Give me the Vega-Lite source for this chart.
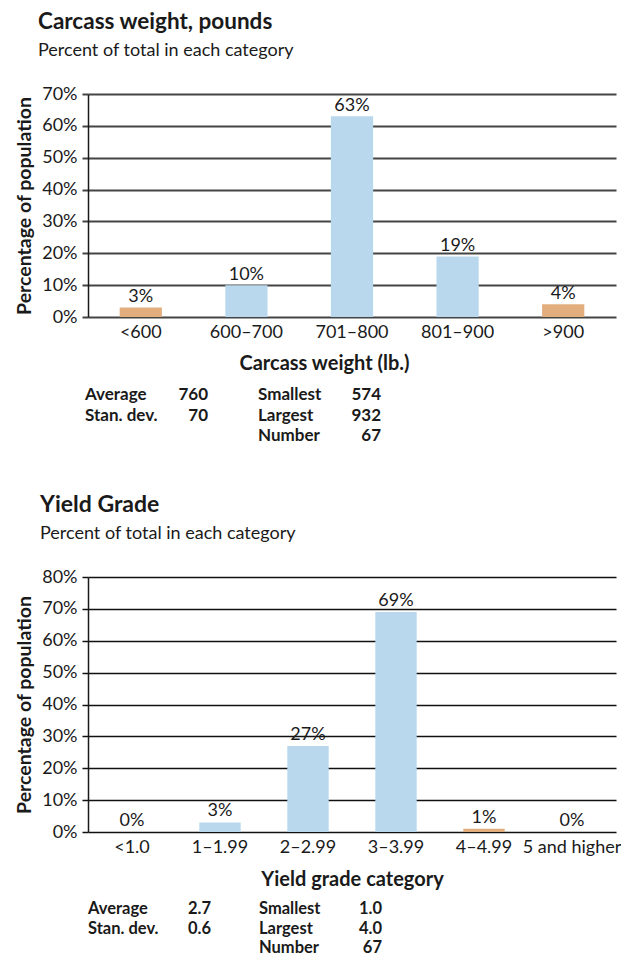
{
  "$schema": "https://vega.github.io/schema/vega-lite/v6.json",
  "background": "white",
  "padding": {"left": 14, "top": 10, "right": 0, "bottom": 0},
  "spacing": 0,
  "config": {
    "font": "Lato",
    "view": {"stroke": null},
    "text": {"font": "Lato", "color": "#1a1a1a"},
    "title": {"font": "Lato", "subtitleFont": "Lato", "color": "#1a1a1a", "subtitleColor": "#1a1a1a"},
    "axis": {"labelFont": "Lato", "titleFont": "Lato", "labelColor": "#1a1a1a", "titleColor": "#1a1a1a"}
  },
  "vconcat": [
    {
      "width": 528,
      "height": 223,
      "title": {"text": "Carcass weight, pounds", "subtitle": "Percent of total in each category", "anchor": "start", "frame": "group", "dx": -50, "fontSize": 22.5, "fontWeight": "bold", "subtitleFontSize": 18, "subtitlePadding": 9, "offset": 25},
      "data": {"values": [
        {"category": "<600", "pct": 0.03, "group": "tail"},
        {"category": "600–700", "pct": 0.10, "group": "core"},
        {"category": "701–800", "pct": 0.63, "group": "core"},
        {"category": "801–900", "pct": 0.19, "group": "core"},
        {"category": ">900", "pct": 0.04, "group": "tail"}
      ]},
      "encoding": {
        "x": {"field": "category", "type": "nominal", "sort": null, "scale": {"paddingInner": 0.6, "paddingOuter": 0.3},
          "axis": {"title": "Carcass weight (lb.)", "labelAngle": 0, "domain": false, "ticks": false, "labelFontSize": 18, "labelPadding": 6, "titleFontSize": 20, "titleFontWeight": "bold", "titlePadding": 12, "titleX": 236}},
        "y": {"field": "pct", "type": "quantitative", "scale": {"domain": [0, 0.7]},
          "axis": {"title": "Percentage of population", "format": ".0%", "values": [0, 0.1, 0.2, 0.3, 0.4, 0.5, 0.6, 0.7], "grid": true, "gridColor": "#444444", "gridWidth": 2, "domain": true, "domainColor": "#1a1a1a", "domainWidth": 1.5, "ticks": true, "tickSize": 6, "tickColor": "#444444", "tickWidth": 2, "labelFontSize": 18, "labelPadding": 5, "titleFontSize": 19.5, "titleFontWeight": "bold", "titlePadding": 7}}
      },
      "layer": [
        {"mark": {"type": "bar"}, "encoding": {"color": {"field": "group", "type": "nominal", "scale": {"domain": ["tail", "core"], "range": ["#e2ae7e", "#b9d8ee"]}, "legend": null}}},
        {"mark": {"type": "text", "baseline": "bottom", "dy": -1, "fontSize": 18}, "encoding": {"text": {"field": "pct", "type": "quantitative", "format": ".0%"}}}
      ]
    },
    {
      "width": 528,
      "height": 121,
      "data": {"values": [
        {"stat": "Average", "value": "760", "col": "left", "line": 1},
        {"stat": "Stan. dev.", "value": "70", "col": "left", "line": 2},
        {"stat": "Smallest", "value": "574", "col": "right", "line": 1},
        {"stat": "Largest", "value": "932", "col": "right", "line": 2},
        {"stat": "Number", "value": "67", "col": "right", "line": 3}
      ]},
      "encoding": {
        "x": {"field": "col", "type": "nominal", "scale": {"type": "point", "domain": ["left", "right"], "range": [-3, 170], "padding": 0}, "axis": null},
        "y": {"field": "line", "type": "ordinal", "scale": {"type": "point", "domain": [1, 2, 3], "range": [22, 63], "padding": 0}, "axis": null}
      },
      "layer": [
        {"mark": {"type": "text", "align": "left", "baseline": "middle", "fontWeight": "bold", "fontSize": 17}, "encoding": {"text": {"field": "stat"}}},
        {"mark": {"type": "text", "align": "right", "baseline": "middle", "fontWeight": "bold", "fontSize": 17, "dx": 123}, "encoding": {"text": {"field": "value"}}}
      ]
    },
    {
      "width": 528,
      "height": 255,
      "title": {"text": "Yield Grade", "subtitle": "Percent of total in each category", "anchor": "start", "frame": "group", "dx": -48, "fontSize": 23, "fontWeight": "bold", "subtitleFontSize": 18, "subtitlePadding": 8, "offset": 25},
      "data": {"values": [
        {"category": "<1.0", "pct": 0.0, "group": "core"},
        {"category": "1–1.99", "pct": 0.03, "group": "core"},
        {"category": "2–2.99", "pct": 0.27, "group": "core"},
        {"category": "3–3.99", "pct": 0.69, "group": "core"},
        {"category": "4–4.99", "pct": 0.01, "group": "tail"},
        {"category": "5 and higher", "pct": 0.0, "group": "core"}
      ]},
      "encoding": {
        "x": {"field": "category", "type": "nominal", "sort": null, "scale": {"paddingInner": 0.53, "paddingOuter": 0.265},
          "axis": {"title": "Yield grade category", "labelAngle": 0, "domain": false, "ticks": false, "labelFontSize": 18, "labelPadding": 6, "titleFontSize": 20, "titleFontWeight": "bold", "titlePadding": 13}},
        "y": {"field": "pct", "type": "quantitative", "scale": {"domain": [0, 0.8]},
          "axis": {"title": "Percentage of population", "format": ".0%", "values": [0, 0.1, 0.2, 0.3, 0.4, 0.5, 0.6, 0.7, 0.8], "grid": true, "gridColor": "#111111", "gridWidth": 1.5, "domain": true, "domainColor": "#1a1a1a", "domainWidth": 1.5, "ticks": true, "tickSize": 6, "tickColor": "#111111", "tickWidth": 1.5, "labelFontSize": 18, "labelPadding": 5, "titleFontSize": 19.5, "titleFontWeight": "bold", "titlePadding": 7}}
      },
      "layer": [
        {"mark": {"type": "bar"}, "encoding": {"color": {"field": "group", "type": "nominal", "scale": {"domain": ["tail", "core"], "range": ["#e2ae7e", "#b9d8ee"]}, "legend": null}}},
        {"mark": {"type": "text", "baseline": "bottom", "dy": -2, "fontSize": 18}, "encoding": {"text": {"field": "pct", "type": "quantitative", "format": ".0%"}}}
      ]
    },
    {
      "width": 528,
      "height": 70,
      "data": {"values": [
        {"stat": "Average", "value": "2.7", "col": "left", "line": 1},
        {"stat": "Stan. dev.", "value": "0.6", "col": "left", "line": 2},
        {"stat": "Smallest", "value": "1.0", "col": "right", "line": 1},
        {"stat": "Largest", "value": "4.0", "col": "right", "line": 2},
        {"stat": "Number", "value": "67", "col": "right", "line": 3}
      ]},
      "encoding": {
        "x": {"field": "col", "type": "nominal", "scale": {"type": "point", "domain": ["left", "right"], "range": [0, 171], "padding": 0}, "axis": null},
        "y": {"field": "line", "type": "ordinal", "scale": {"type": "point", "domain": [1, 2, 3], "range": [20, 59], "padding": 0}, "axis": null}
      },
      "layer": [
        {"mark": {"type": "text", "align": "left", "baseline": "middle", "fontWeight": "bold", "fontSize": 16.5}, "encoding": {"text": {"field": "stat"}}},
        {"mark": {"type": "text", "align": "right", "baseline": "middle", "fontWeight": "bold", "fontSize": 16.5, "dx": 123}, "encoding": {"text": {"field": "value"}}}
      ]
    }
  ]
}
